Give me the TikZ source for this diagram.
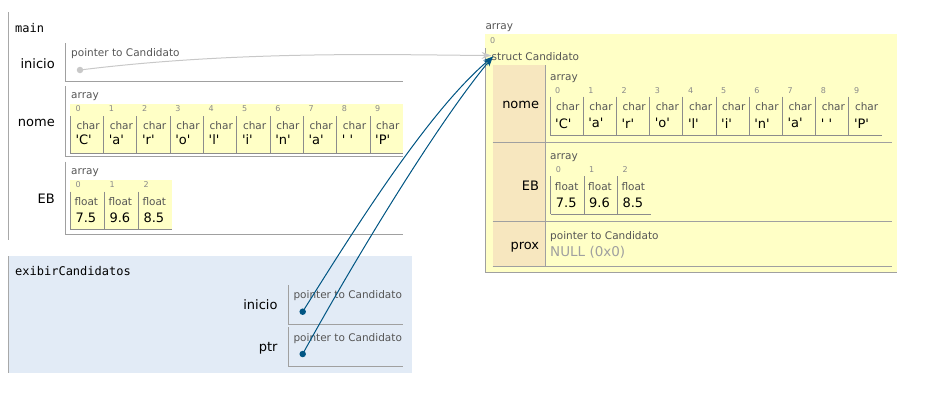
\documentclass[tikz,border=0pt]{standalone}
\usepackage{fontspec}
\setmainfont{DejaVu Sans}
\newfontfamily\monof{DejaVu Sans Mono}
\usetikzlibrary{arrows.meta}
\definecolor{rowline}{HTML}{A0A0A0}
\definecolor{frameline}{HTML}{A8A8A8}
\definecolor{cellline}{HTML}{8C8C8C}
\definecolor{heapyellow}{HTML}{FFFFC6}
\definecolor{fieldtan}{HTML}{F7E7BF}
\definecolor{framebg}{HTML}{E2EBF6}
\definecolor{typegray}{HTML}{555555}
\definecolor{idxgray}{HTML}{8A8A8A}
\definecolor{ptrblue}{HTML}{005583}
\definecolor{stalegray}{HTML}{C8C8C8}
\definecolor{nullgray}{HTML}{A0A0A0}
\newcommand\qv[1]{\textquotesingle#1\textquotesingle}
\begin{document}
\begin{tikzpicture}[x=1pt,y=-1pt,
  typelbl/.style={anchor=west,inner sep=0,font=\fontsize{10.5}{12}\selectfont,text=typegray},
  idx/.style={anchor=west,inner sep=0,font=\fontsize{8}{9}\selectfont,text=idxgray},
  val/.style={anchor=west,inner sep=0,font=\fontsize{13}{15}\selectfont},
  varlbl/.style={anchor=east,inner sep=0,font=\fontsize{13}{15}\selectfont},
  framelbl/.style={anchor=west,inner sep=0,font=\monof\fontsize{12}{14}\selectfont},
  rowln/.style={draw=rowline,line width=1pt},
  frameln/.style={draw=frameline,line width=1pt},
  cellln/.style={draw=cellline,line width=1pt},
  ptrdot/.style={circle,inner sep=0,minimum size=6.5pt},
  ptrarrow/.style={line width=1pt,-{Stealth[length=10pt,width=7pt]}}
]
\useasboundingbox (0,0) rectangle (933,402);

% ---------- main frame ----------
\draw[frameln] (8.5,12) -- (8.5,240);
\node[framelbl] (mainlbl) at (15,28) {main};

% inicio
\draw[rowln] (65.5,43) -- (65.5,81.5) -- (403,81.5);
\node[varlbl] (mini) at (55,63.5) {inicio};
\node[typelbl] (minit) at (71,54) {pointer to Candidato};
\node[ptrdot,fill=stalegray] (mdot) at (80,70) {};

% nome
\draw[rowln] (65.5,86) -- (65.5,156.7) -- (403,156.7);
\node[varlbl] (mnome) at (55,122.7) {nome};
\node[typelbl] (mnomet) at (71,96.7) {array};
\fill[heapyellow] (70,104) rectangle (403,153);
\draw[cellln] (70.3,153) -- (403.3,153);
\foreach \v [count=\i from 0, evaluate=\i as \cx using 70.3+\i*33.3] in {C,a,r,o,l,i,n,a,{\ },P} {
  \draw[cellln] (\cx,116) -- (\cx,153);
  \node[idx] (mni\i) at (\cx+5,109) {\i};
  \node[typelbl] (mnt\i) at (\cx+6,125.5) {char};
  \node[val] (mnv\i) at (\cx+5,140) {\qv{\v}};
}

% EB
\draw[rowln] (65.5,161.7) -- (65.5,234.3) -- (403,234.3);
\node[varlbl] (meb) at (55,199) {EB};
\node[typelbl] (mebt) at (71,172.7) {array};
\fill[heapyellow] (70,180) rectangle (172.3,229.3);
\draw[cellln] (70.3,229.3) -- (172.3,229.3);
\foreach \v [count=\i from 0, evaluate=\i as \cx using 70.3+\i*34] in {7.5,9.6,8.5} {
  \draw[cellln] (\cx,191.7) -- (\cx,229.3);
  \node[idx] (mei\i) at (\cx+5,184.7) {\i};
  \node[typelbl] (met\i) at (\cx+4,201.5) {float};
  \node[val] (mev\i) at (\cx+5,217.7) {\v};
}

% ---------- exibirCandidatos frame ----------
\fill[framebg] (8,256) rectangle (412,373);
\draw[frameln] (8.5,256) -- (8.5,373);
\node[framelbl] (exlbl) at (15,270.7) {exibirCandidatos};

\draw[rowln] (288.5,285) -- (288.5,324) -- (403,324);
\node[varlbl] (eini) at (277.7,305) {inicio};
\node[typelbl] (einit) at (293.3,296) {pointer to Candidato};
\node[ptrdot,fill=ptrblue] (edot1) at (302.7,311.7) {};

\draw[rowln] (288.5,327.3) -- (288.5,366) -- (403,366);
\node[varlbl] (eptr) at (277.7,348.3) {ptr};
\node[typelbl] (eptrt) at (293.3,338.3) {pointer to Candidato};
\node[ptrdot,fill=ptrblue] (edot2) at (302.7,354) {};

% ---------- heap ----------
\node[typelbl] (harr) at (485.3,27.7) {array};
\fill[heapyellow] (485,34) rectangle (897,273);
\node[idx] (h0) at (490,40.5) {0};
\node[typelbl] (hstruct) at (491.5,56.7) {struct Candidato};
\fill[fieldtan] (492.7,65) rectangle (545,266);
\draw[rowln] (545.3,65) -- (545.3,266);
\draw[rowln] (492.7,142.5) -- (892,142.5);
\draw[rowln] (492.7,221) -- (892,221);
\draw[rowln] (492.7,266) -- (892,266);
\draw[rowln] (485.5,48) -- (485.5,272.7) -- (897,272.7);

\node[varlbl] (hnome) at (539.3,105) {nome};
\node[varlbl] (heb) at (539.3,186) {EB};
\node[varlbl] (hprox) at (539.3,247.3) {prox};

% heap nome array
\node[typelbl] (hnomet) at (550,78.3) {array};
\draw[cellln] (550,135) -- (882,135);
\foreach \v [count=\i from 0, evaluate=\i as \cx using 550+\i*33.2] in {C,a,r,o,l,i,n,a,{\ },P} {
  \draw[cellln] (\cx,96.7) -- (\cx,135);
  \node[idx] (hni\i) at (\cx+5,91) {\i};
  \node[typelbl] (hnt\i) at (\cx+6,107) {char};
  \node[val] (hnv\i) at (\cx+5,123.3) {\qv{\v}};
}

% heap EB array
\node[typelbl] (hebt) at (550,157.3) {array};
\draw[cellln] (550.7,214) -- (650.6,214);
\foreach \v [count=\i from 0, evaluate=\i as \cx using 550.7+\i*33.3] in {7.5,9.6,8.5} {
  \draw[cellln] (\cx,176) -- (\cx,214);
  \node[idx] (hei\i) at (\cx+5,170) {\i};
  \node[typelbl] (het\i) at (\cx+4,186.5) {float};
  \node[val] (hev\i) at (\cx+5,202.7) {\v};
}

% heap prox
\node[typelbl] (hproxt) at (550,236.7) {pointer to Candidato};
\node[val,text=nullgray,font=\fontsize{13.5}{15}\selectfont] (hnull) at (550,252.7) {NULL (0x0)};

% ---------- pointers ----------
\coordinate (gtip) at (491.5,55.5);
\coordinate (stip) at (493,56.5);
\draw[ptrarrow,stalegray] (mdot.center) .. controls (240,50) and (400,55) .. (gtip);
\draw[ptrarrow,ptrblue] (edot1.center) .. controls (360,220) and (430,110) .. (stip);
\draw[ptrarrow,ptrblue] (edot2.center) .. controls (360,250) and (440,120) .. (stip);
\end{tikzpicture}
\end{document}
